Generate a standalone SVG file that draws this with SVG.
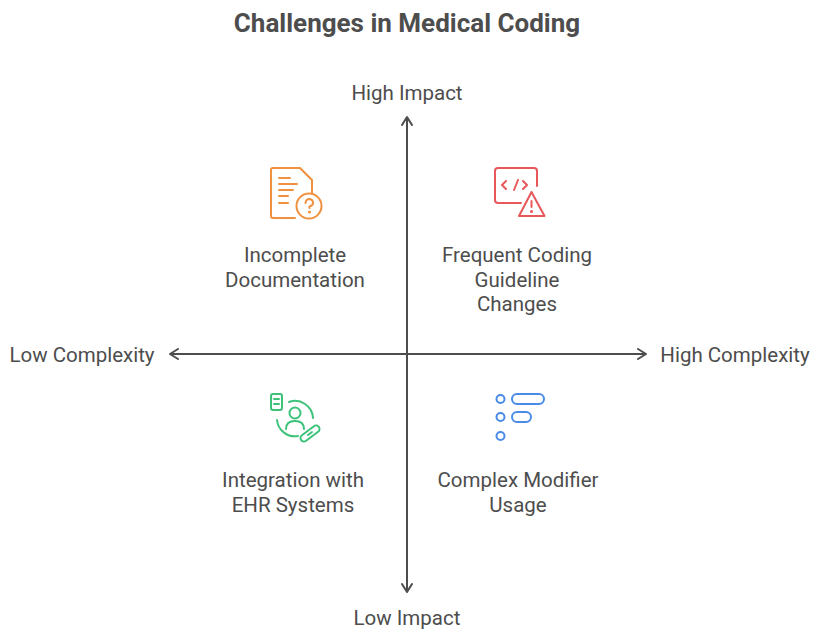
<svg xmlns="http://www.w3.org/2000/svg" width="820" height="634" viewBox="0 0 820 634">
<defs>
<style>
.t{font-family:Roboto,"Liberation Sans",sans-serif;fill:#4d4d4d;font-size:20.5px;text-anchor:middle}
.title{font-family:Roboto,"Liberation Sans",sans-serif;fill:#4d4d4d;font-size:26px;font-weight:bold;text-anchor:middle}
.ax{stroke:#4d4d4d;stroke-width:2;fill:none}
.ic{fill:none;stroke-width:2;stroke-linecap:round;stroke-linejoin:round}
</style>
<marker id="ah" viewBox="0 0 12 12" refX="10" refY="6" markerWidth="12" markerHeight="12" markerUnits="userSpaceOnUse" orient="auto-start-reverse">
<path d="M2,1 L10,6 L2,11" fill="none" stroke="#4d4d4d" stroke-width="2" stroke-linecap="round" stroke-linejoin="round"/>
</marker>
</defs>
<rect width="820" height="634" fill="#ffffff"/>
<text class="title" x="407" y="32">Challenges in Medical Coding</text>
<g id="connectors">
<line class="ax" x1="170" y1="354" x2="646" y2="354" marker-start="url(#ah)" marker-end="url(#ah)"/>
<line class="ax" x1="407" y1="117" x2="407" y2="592" marker-start="url(#ah)" marker-end="url(#ah)"/>
</g>
<g id="axis-labels">
<text class="t" x="407" y="100">High Impact</text>
<text class="t" x="407" y="625">Low Impact</text>
<text class="t" x="82" y="362">Low Complexity</text>
<text class="t" x="735" y="362">High Complexity</text>
</g>
<g id="incomplete-documentation">
<g class="ic" stroke="#F0913F">
<path d="M295,218 H273 Q271,218 271,216 V170 Q271,168 273,168 H300 L312,180 V193"/>
<path d="M279,178 H290 M279,184 H297 M279,190 H293 M279,196 H288 M279,203 H288"/>
<circle cx="309" cy="206" r="12.5"/>
<path d="M305.5,203 Q306,199 309.5,199 Q313,199.5 313,203 Q313,205.5 309.5,206.5 V208"/>
<circle cx="309.5" cy="212" r="0.6" fill="#F0913F"/>
</g>
<text class="t" x="295" y="262">Incomplete</text>
<text class="t" x="295" y="287">Documentation</text>
</g>
<g id="frequent-coding-guideline-changes">
<g class="ic" stroke="#E8585A">
<path d="M521,203 H498 Q495,203 495,200 V171 Q495,168 498,168 H534 Q537,168 537,171 V186"/>
<path d="M506,181 L502,185 L506,189 M518,180 L514,190 M523,181 L527,185 L523,189"/>
<path d="M531.5,192 L519,216 H544.5 Z"/>
<path d="M531.5,201 V207"/>
<circle cx="531.5" cy="211.5" r="0.6" fill="#E8585A"/>
</g>
<text class="t" x="517" y="262">Frequent Coding</text>
<text class="t" x="517" y="287">Guideline</text>
<text class="t" x="517" y="311">Changes</text>
</g>
<g id="integration-with-ehr-systems">
<g class="ic" stroke="#3DC27A">
<rect x="271" y="394" width="11" height="16" rx="2"/>
<path d="M274,399 H279 M274,404 H279"/>
<circle cx="295" cy="413" r="5.5"/>
<path d="M286,429 Q286,421 295,421 Q304,421 304,429"/>
<path d="M289,402 A18,18 0 0 1 313,418"/>
<path d="M277,420 A18,18 0 0 0 298,436"/>
<path d="M304,438 L316,429" stroke-width="9"/>
<path d="M304,438 L316,429" stroke="#ffffff" stroke-width="5"/>
<path d="M308,435 L312,432"/>
</g>
<text class="t" x="293" y="487">Integration with</text>
<text class="t" x="293" y="512">EHR Systems</text>
</g>
<g id="complex-modifier-usage">
<g class="ic" stroke="#4A8AE8">
<circle cx="500.5" cy="399" r="4"/>
<circle cx="500.5" cy="417" r="4"/>
<circle cx="500.5" cy="436" r="4"/>
<rect x="512" y="394" width="32" height="10" rx="5"/>
<rect x="512" y="412" width="19" height="10" rx="5"/>
</g>
<text class="t" x="518" y="487">Complex Modifier</text>
<text class="t" x="518" y="512">Usage</text>
</g>
</svg>
